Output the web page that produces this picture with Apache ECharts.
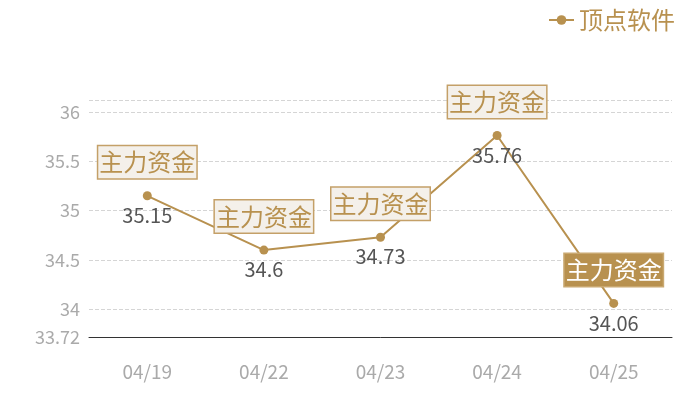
<!DOCTYPE html>
<html>
<head>
<meta charset="utf-8">
<script src="https://cdn.jsdelivr.net/npm/echarts@6/dist/echarts.min.js"></script>
<style>html,body{margin:0;padding:0;background:#fff}#c{width:700px;height:400px}</style>
</head>
<body>
<div id="c"></div>
<script>
var seriesName = '顶点软件';
var categories = ['04/19', '04/22', '04/23', '04/24', '04/25'];
var values = [35.15, 34.6, 34.73, 35.76, 34.06];
var tagText = '主力资金';
var highlightIndex = 4;
var yMin = 33.72;
var yMax = 36.12;

var gold = '#b8914f';
var font = '"Noto Sans CJK SC", "Noto Sans", sans-serif';

var tagData = values.map(function (v, i) {
  var d = { value: v };
  if (i === highlightIndex) {
    d.label = { backgroundColor: gold, borderColor: '#c9a870', color: '#fff' };
  }
  return d;
});

var chart = echarts.init(document.getElementById('c'));
chart.setOption({
  animation: false,
  textStyle: { fontFamily: font },
  legend: {
    data: [seriesName],
    right: 20,
    top: 3,
    itemWidth: 25,
    itemHeight: 12,
    itemGap: 7,
    textStyle: { color: gold, fontSize: 24, fontFamily: font }
  },
  grid: { left: 89, right: 28, top: 100, bottom: 63 },
  xAxis: {
    type: 'category',
    data: categories,
    axisLine: { lineStyle: { color: '#333', width: 1 } },
    axisTick: { show: false },
    axisLabel: { color: '#aaa', fontSize: 19, margin: 25, fontFamily: font }
  },
  yAxis: {
    type: 'value',
    min: yMin,
    max: yMax,
    splitNumber: 5,
    axisLine: { show: false },
    axisTick: { show: false },
    axisLabel: { color: '#aaa', fontSize: 18, margin: 9, showMaxLabel: false, fontFamily: font },
    splitLine: { lineStyle: { color: '#d5d5d5', type: 'dashed' } }
  },
  series: [
    {
      name: seriesName,
      type: 'line',
      data: values,
      symbol: 'circle',
      symbolSize: 9,
      itemStyle: { color: gold },
      lineStyle: { color: gold, width: 2 },
      label: {
        show: true,
        position: 'bottom',
        distance: 5,
        color: '#555',
        fontSize: 20,
        fontFamily: font
      },
      z: 2
    },
    {
      name: 'tag',
      type: 'scatter',
      data: tagData,
      symbolSize: 1,
      itemStyle: { color: 'rgba(0,0,0,0)', opacity: 1 },
      label: {
        show: true,
        position: 'top',
        distance: 17,
        formatter: tagText,
        color: gold,
        fontSize: 24,
        fontFamily: font,
        backgroundColor: '#f4f0ea',
        borderColor: '#c4a068',
        borderWidth: 1.5,
        padding: [4, 1, 4, 1]
      },
      silent: true,
      z: 5
    }
  ]
});
</script>
</body>
</html>
